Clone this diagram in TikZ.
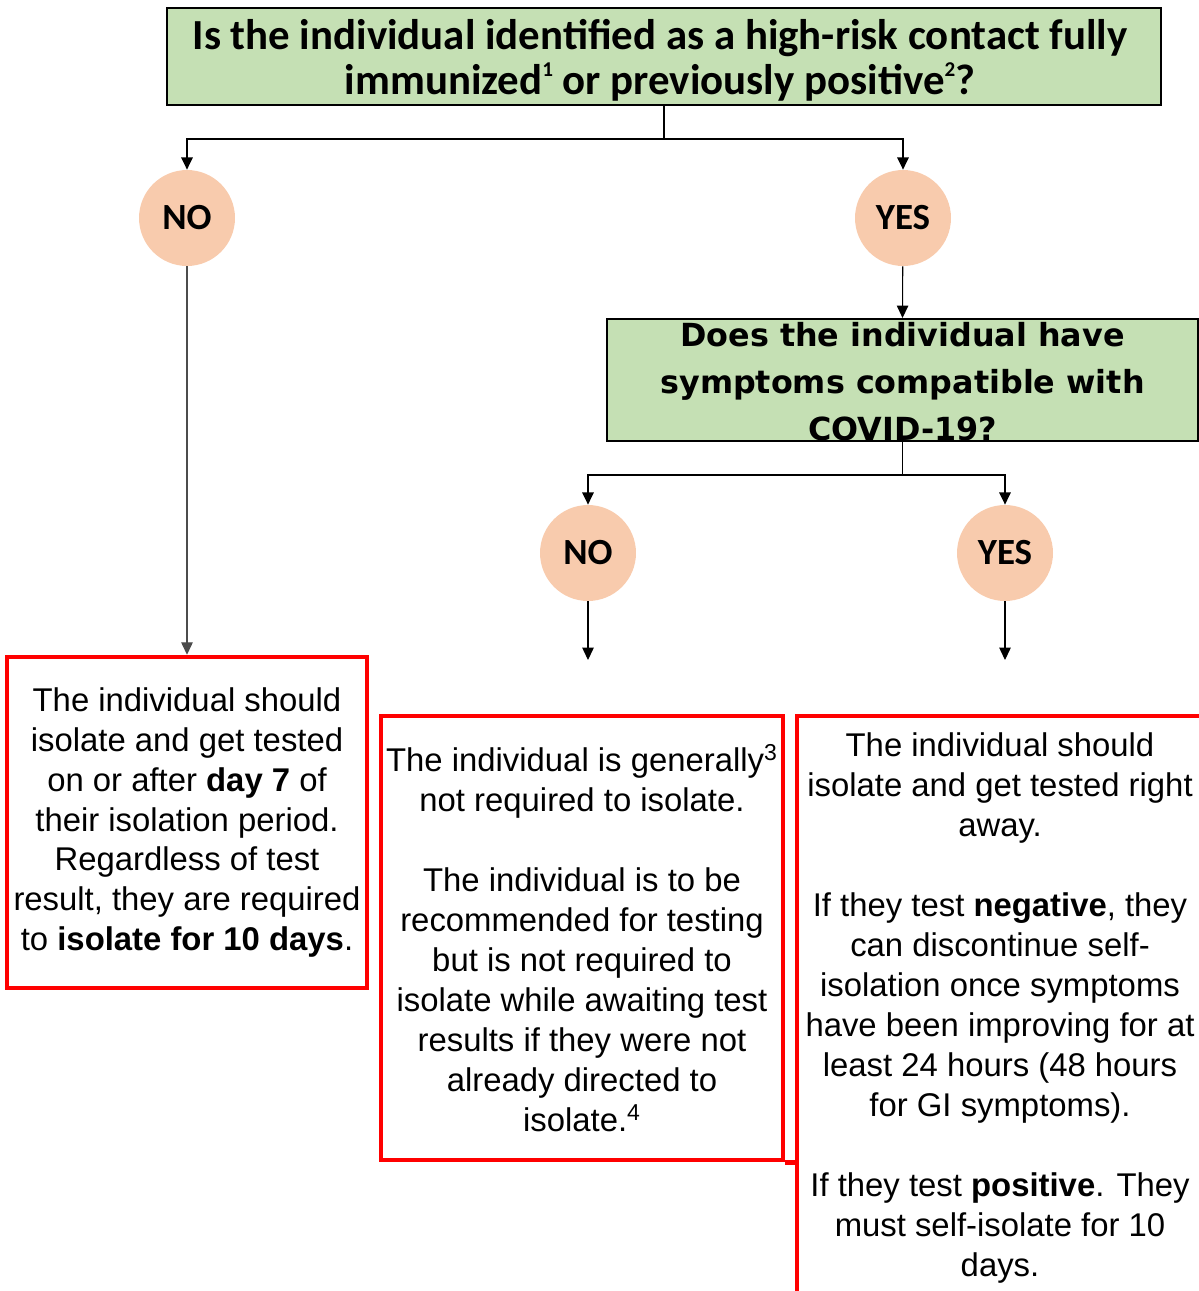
\documentclass[tikz,border=0pt]{standalone}
\usepackage{fontspec}
\setmainfont{Liberation Sans}
\newfontfamily\headfont{Carlito}
\newfontfamily\askfont{DejaVu Sans}
\usetikzlibrary{arrows.meta}

\definecolor{qgreen}{HTML}{C5E0B4}
\definecolor{answer}{HTML}{F8CBAD}
\definecolor{alert}{HTML}{FF0000}

\newcommand{\fnmark}[1]{\raisebox{0.85ex}{\fontsize{12}{12}\selectfont #1}}

\tikzset{
  question/.style={draw=black, line width=1.2pt, fill=qgreen, inner sep=0pt},
  qtext/.style={align=center, inner sep=0pt, font=\headfont\bfseries\fontsize{24.4}{25.6}\selectfont},
  choice/.style={circle, fill=answer, minimum size=1.92cm, inner sep=0pt, font=\headfont\bfseries\fontsize{21}{22}\selectfont},
  outcome/.style={draw=alert, line width=2.6pt, align=center, inner sep=0pt, font=\fontsize{18.7}{22.76}\selectfont},
  arr/.style={line width=1.1pt, -{Triangle[length=7pt,width=6.5pt]}},
  thinarr/.style={line width=0.6pt, -{Triangle[length=7pt,width=6.5pt]}},
}

\begin{document}
\begin{tikzpicture}[x=0.02cm, y=-0.02cm]
  \useasboundingbox (0,0) rectangle (1199,1291);

  % questions
  \node[question, minimum width=19.88cm, minimum height=1.94cm] (q1) at (664,56.5) {};
  \node[qtext] (q1t) at (660,60) {Is the individual identified as a high-risk contact fully\\
    immunized\fnmark{1} or previously positive\fnmark{2}?};
  \node[question, minimum width=11.82cm, minimum height=2.44cm] (q2) at (902.5,380) {};
  \node[qtext, font=\askfont\bfseries\fontsize{18.1}{26.7}\selectfont] (q2t) at (902.5,382) {Does the individual have\\
    symptoms compatible with\\ COVID-19?};

  % answers
  \node[choice] (no1) at (187,218) {NO};
  \node[choice] (yes1) at (903,218) {YES};
  \node[choice] (no2) at (588,553) {NO};
  \node[choice] (yes2) at (1005,553) {YES};

  % outcomes
  \node[outcome, minimum width=7.2cm, minimum height=6.62cm] (out1) at (187,822.5)
    {The individual should\\ isolate and get tested\\ on or after \textbf{day 7} of\\
     their isolation period.\\ Regardless of test\\ result, they are required\\
     to \textbf{isolate for 10 days}.};
  \node[outcome, minimum width=8.04cm, minimum height=8.88cm] (out2) at (582,938)
    {The individual is generally\textsuperscript{3}\\ not required to isolate.\\[22.76pt]
     The individual is to be\\ recommended for testing\\ but is not required to\\
     isolate while awaiting test\\ results if they were not\\ already directed to\\
     isolate.\textsuperscript{4}};
  \begin{scope}
    \clip (0,0) rectangle (1199,1291);
    \node[outcome, minimum width=8.12cm, minimum height=11.68cm] (out3) at (1000,1008)
      {The individual should\\ isolate and get tested right\\ away.\\[22.76pt]
       If they test \textbf{negative}, they\\ can discontinue self-\\ isolation once symptoms\\
       have been improving for at\\ least 24 hours (48 hours\\ for GI symptoms).\\[22.76pt]
       If they test \textbf{positive}. They\\ must self-isolate for 10\\ days.};
  \end{scope}
  \draw[alert, line width=2.6pt] (out2.south east) -- (out3.west |- out2.south);

  % connectors
  \coordinate (end2) at (588,660);
  \coordinate (end3) at (1005,660);
  \draw[arr] (q1.south) -- ++(0,33) -| (no1.north);
  \draw[arr] (q1.south) -- ++(0,33) -| (yes1.north);
  \draw[thinarr] (yes1) -- (q2.north);
  \draw[thinarr, black!70] (no1) -- (out1.north);
  \draw[arr] (q2.south) -- ++(0,33) -| (no2.north);
  \draw[arr] (q2.south) -- ++(0,33) -| (yes2.north);
  \draw[thinarr] (no2) -- (end2);
  \draw[thinarr] (yes2) -- (end3);
\end{tikzpicture}
\end{document}
